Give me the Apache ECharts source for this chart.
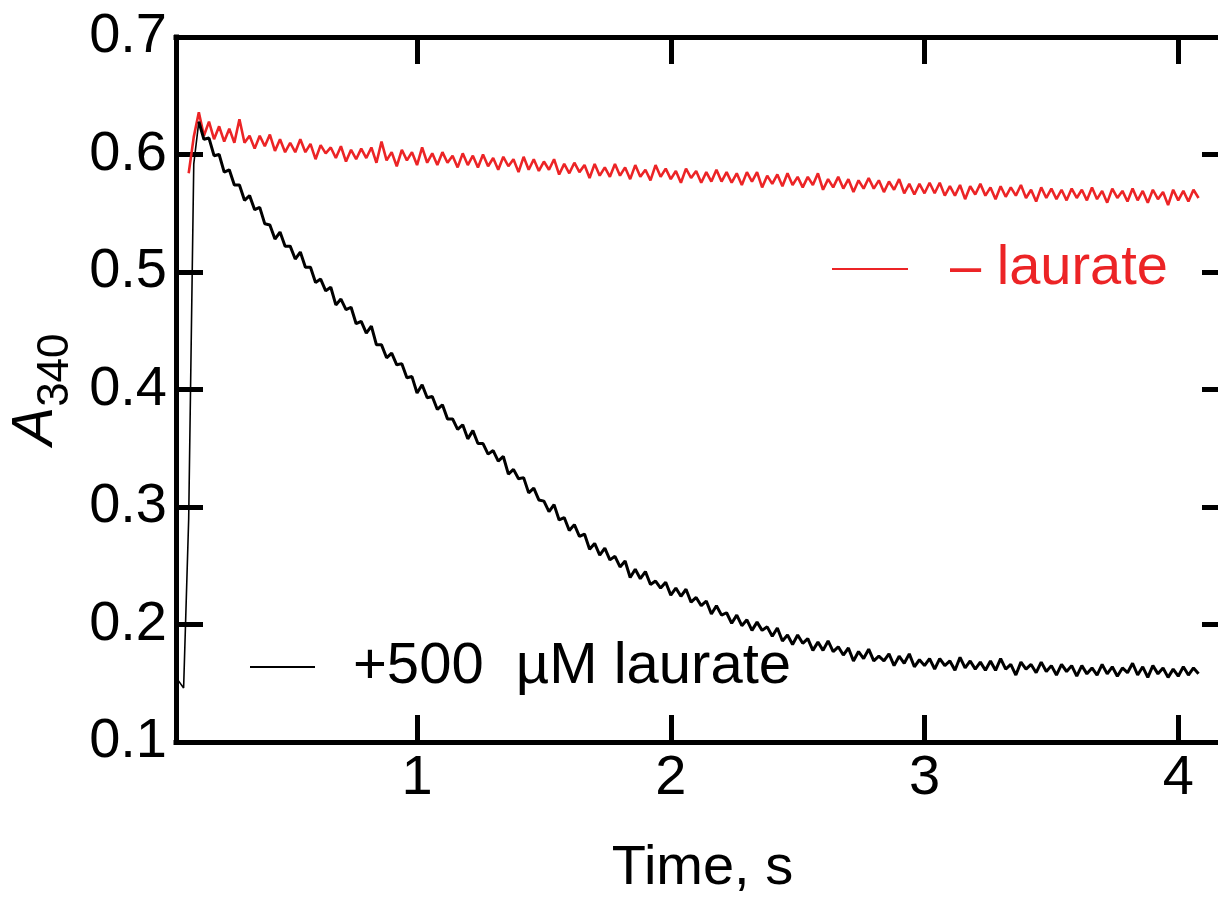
<!DOCTYPE html>
<html>
<head>
<meta charset="utf-8">
<script src="https://cdn.jsdelivr.net/npm/echarts@6.0.0/dist/echarts.min.js"></script>
<style>
  html, body { margin: 0; padding: 0; background: #fff; }
  #chart { width: 1218px; height: 899px; }
</style>
</head>
<body>
<div id="chart"></div>
<script>
// ---- Data ----
const timeStart = 0.06;   // s
const timeStep = 0.02;    // s
const sampleCount = 202;
const peakIndex = 4;      // sample where the black trace reaches its maximum

const seriesNames = ['– laurate', '+500  µM laurate'];

// A340 without laurate (red); first two samples not recorded
const noLaurate = [
  null, null, 0.584, 0.615, 0.636, 0.616, 0.628, 0.613, 0.624, 0.611,
  0.622, 0.610, 0.630, 0.610, 0.616, 0.605, 0.616, 0.607, 0.617, 0.603,
  0.613, 0.602, 0.610, 0.602, 0.613, 0.602, 0.609, 0.596, 0.608, 0.601,
  0.606, 0.597, 0.607, 0.594, 0.604, 0.596, 0.605, 0.597, 0.606, 0.593,
  0.611, 0.595, 0.602, 0.590, 0.604, 0.595, 0.602, 0.591, 0.606, 0.593,
  0.601, 0.591, 0.602, 0.593, 0.599, 0.589, 0.601, 0.591, 0.599, 0.589,
  0.600, 0.590, 0.597, 0.587, 0.598, 0.590, 0.596, 0.585, 0.598, 0.587,
  0.596, 0.586, 0.594, 0.587, 0.596, 0.583, 0.592, 0.584, 0.593, 0.585,
  0.591, 0.580, 0.592, 0.582, 0.589, 0.581, 0.592, 0.582, 0.589, 0.579,
  0.591, 0.581, 0.587, 0.578, 0.591, 0.581, 0.588, 0.579, 0.586, 0.576,
  0.588, 0.580, 0.586, 0.576, 0.585, 0.577, 0.587, 0.577, 0.585, 0.576,
  0.584, 0.574, 0.585, 0.577, 0.585, 0.572, 0.582, 0.575, 0.583, 0.573,
  0.584, 0.574, 0.581, 0.572, 0.581, 0.574, 0.584, 0.570, 0.579, 0.572,
  0.581, 0.571, 0.579, 0.568, 0.578, 0.571, 0.580, 0.571, 0.578, 0.568,
  0.577, 0.570, 0.579, 0.567, 0.575, 0.566, 0.575, 0.567, 0.576, 0.567,
  0.576, 0.565, 0.573, 0.565, 0.574, 0.562, 0.573, 0.566, 0.575, 0.565,
  0.572, 0.562, 0.573, 0.564, 0.572, 0.565, 0.574, 0.563, 0.570, 0.560,
  0.572, 0.563, 0.571, 0.562, 0.570, 0.561, 0.571, 0.563, 0.570, 0.561,
  0.572, 0.562, 0.569, 0.559, 0.571, 0.563, 0.569, 0.560, 0.571, 0.561,
  0.569, 0.559, 0.570, 0.562, 0.568, 0.557, 0.570, 0.561, 0.569, 0.560,
  0.570, 0.563
];

// A340 with 500 µM laurate (black)
const withLaurate = [
  0.152, 0.146, 0.290, 0.592, 0.628, 0.613, 0.614, 0.599, 0.600, 0.585,
  0.587, 0.574, 0.574, 0.561, 0.565, 0.553, 0.555, 0.541, 0.540, 0.528,
  0.534, 0.522, 0.522, 0.511, 0.517, 0.504, 0.504, 0.491, 0.494, 0.484,
  0.487, 0.472, 0.477, 0.468, 0.470, 0.456, 0.458, 0.448, 0.454, 0.438,
  0.438, 0.427, 0.431, 0.421, 0.422, 0.410, 0.411, 0.397, 0.404, 0.393,
  0.394, 0.383, 0.387, 0.375, 0.375, 0.366, 0.370, 0.358, 0.365, 0.354,
  0.354, 0.345, 0.348, 0.339, 0.343, 0.328, 0.332, 0.324, 0.325, 0.312,
  0.316, 0.306, 0.305, 0.296, 0.302, 0.289, 0.291, 0.280, 0.285, 0.275,
  0.277, 0.264, 0.269, 0.259, 0.265, 0.255, 0.258, 0.249, 0.254, 0.240,
  0.247, 0.239, 0.245, 0.234, 0.237, 0.231, 0.236, 0.225, 0.231, 0.224,
  0.230, 0.219, 0.223, 0.216, 0.220, 0.209, 0.216, 0.208, 0.210, 0.201,
  0.208, 0.199, 0.204, 0.195, 0.202, 0.195, 0.198, 0.190, 0.197, 0.186,
  0.191, 0.183, 0.191, 0.184, 0.188, 0.178, 0.185, 0.178, 0.186, 0.177,
  0.181, 0.174, 0.180, 0.169, 0.177, 0.171, 0.179, 0.169, 0.173, 0.169,
  0.175, 0.165, 0.173, 0.167, 0.175, 0.164, 0.170, 0.165, 0.171, 0.162,
  0.171, 0.165, 0.169, 0.161, 0.172, 0.163, 0.169, 0.162, 0.168, 0.161,
  0.169, 0.161, 0.171, 0.162, 0.166, 0.157, 0.168, 0.162, 0.166, 0.159,
  0.168, 0.160, 0.165, 0.157, 0.166, 0.160, 0.165, 0.156, 0.165, 0.158,
  0.163, 0.157, 0.166, 0.158, 0.164, 0.156, 0.163, 0.159, 0.167, 0.157,
  0.164, 0.155, 0.165, 0.158, 0.163, 0.155, 0.162, 0.156, 0.164, 0.157,
  0.163, 0.158
];

const xTickValues = [1, 2, 3, 4];
const xRange = [0.05, 4.2];
const yRange = [0.1, 0.7];
const yStep = 0.1;

// ---- Build ----
const timeS = [];
for (let i = 0; i < sampleCount; i++) timeS.push(+(timeStart + timeStep * i).toFixed(2));

function pairs(values, from, to) {
  const out = [];
  values.forEach((v, i) => {
    if (v !== null && i >= (from ?? 0) && i <= (to ?? values.length - 1)) out.push([timeS[i], v]);
  });
  return out;
}

const RED = '#ec2426';
const FONT = 'Liberation Sans, Arial, sans-serif';
const axisLineStyle = { color: '#000', width: 5, cap: 'square' };
const tickStyle = { color: '#000', width: 5 };

const chart = echarts.init(document.getElementById('chart'), null, { renderer: 'canvas' });
chart.setOption({
  animation: false,
  backgroundColor: '#fff',
  textStyle: { fontFamily: FONT },
  grid: { left: 176, right: -11, top: 37, bottom: 157, containLabel: false, outerBoundsMode: 'none' },
  xAxis: [
    {
      type: 'value', position: 'bottom', min: xRange[0], max: xRange[1],
      axisLine: { show: true, onZero: false, lineStyle: axisLineStyle },
      axisTick: { show: true, inside: true, length: 27, lineStyle: tickStyle, customValues: xTickValues },
      axisLabel: { show: true, customValues: xTickValues, fontSize: 56, color: '#000', margin: 9, fontFamily: FONT },
      splitLine: { show: false },
      name: 'Time, s', nameLocation: 'middle', nameGap: 99,
      nameTextStyle: { fontSize: 56, color: '#000', fontFamily: FONT }
    },
    {
      type: 'value', position: 'top', min: xRange[0], max: xRange[1],
      axisLine: { show: true, onZero: false, lineStyle: axisLineStyle },
      axisTick: { show: true, inside: true, length: 27, lineStyle: tickStyle, customValues: xTickValues },
      axisLabel: { show: false },
      splitLine: { show: false }
    }
  ],
  yAxis: [
    {
      type: 'value', position: 'left', min: yRange[0], max: yRange[1], interval: yStep,
      axisLine: { show: true, onZero: false, lineStyle: axisLineStyle },
      axisTick: { show: true, inside: true, length: 27, lineStyle: tickStyle },
      axisLabel: { fontSize: 56, color: '#000', margin: 9, fontFamily: FONT, formatter: v => v.toFixed(1) },
      splitLine: { show: false },
      name: '{a|A}{s|340}', nameLocation: 'middle', nameRotate: 90, nameGap: 86,
      nameTextStyle: {
        color: '#000', fontFamily: FONT,
        rich: {
          a: { fontSize: 58, fontStyle: 'italic', lineHeight: 60, color: '#000', fontFamily: FONT },
          s: { fontSize: 44, lineHeight: 60, padding: [40, 0, 0, 0], color: '#000', fontFamily: FONT }
        }
      }
    },
    {
      type: 'value', position: 'right', min: yRange[0], max: yRange[1], interval: yStep,
      axisLine: { show: true, onZero: false, lineStyle: axisLineStyle },
      axisTick: { show: true, inside: true, length: 27, lineStyle: tickStyle },
      axisLabel: { show: false },
      splitLine: { show: false }
    }
  ],
  legend: [
    {
      data: [{ name: seriesNames[0], textStyle: { color: RED }, icon: 'rect' }],
      left: 827, top: 236, itemWidth: 76, itemHeight: 2, selectedMode: false,
      textStyle: { fontSize: 56, fontFamily: FONT, padding: [0, 0, 0, 37] }
    },
    {
      data: [{ name: seriesNames[1], textStyle: { color: '#000' }, icon: 'rect' }],
      left: 245, top: 633, itemWidth: 65, itemHeight: 2, selectedMode: false,
      textStyle: { fontSize: 58, fontFamily: FONT, padding: [0, 0, 0, 33] }
    }
  ],
  series: [
    {
      name: seriesNames[0], type: 'line', data: pairs(noLaurate),
      symbol: 'none', xAxisIndex: 0, yAxisIndex: 0,
      lineStyle: { color: RED, width: 2.6 }, itemStyle: { color: RED }
    },
    {
      name: seriesNames[1], type: 'line', data: pairs(withLaurate, 0, peakIndex),
      symbol: 'none', xAxisIndex: 0, yAxisIndex: 0,
      lineStyle: { color: '#000', width: 1.6 }, itemStyle: { color: '#000' }
    },
    {
      name: seriesNames[1], type: 'line', data: pairs(withLaurate, peakIndex),
      symbol: 'none', xAxisIndex: 0, yAxisIndex: 0,
      lineStyle: { color: '#000', width: 3 }, itemStyle: { color: '#000' }
    }
  ]
});
</script>
</body>
</html>
